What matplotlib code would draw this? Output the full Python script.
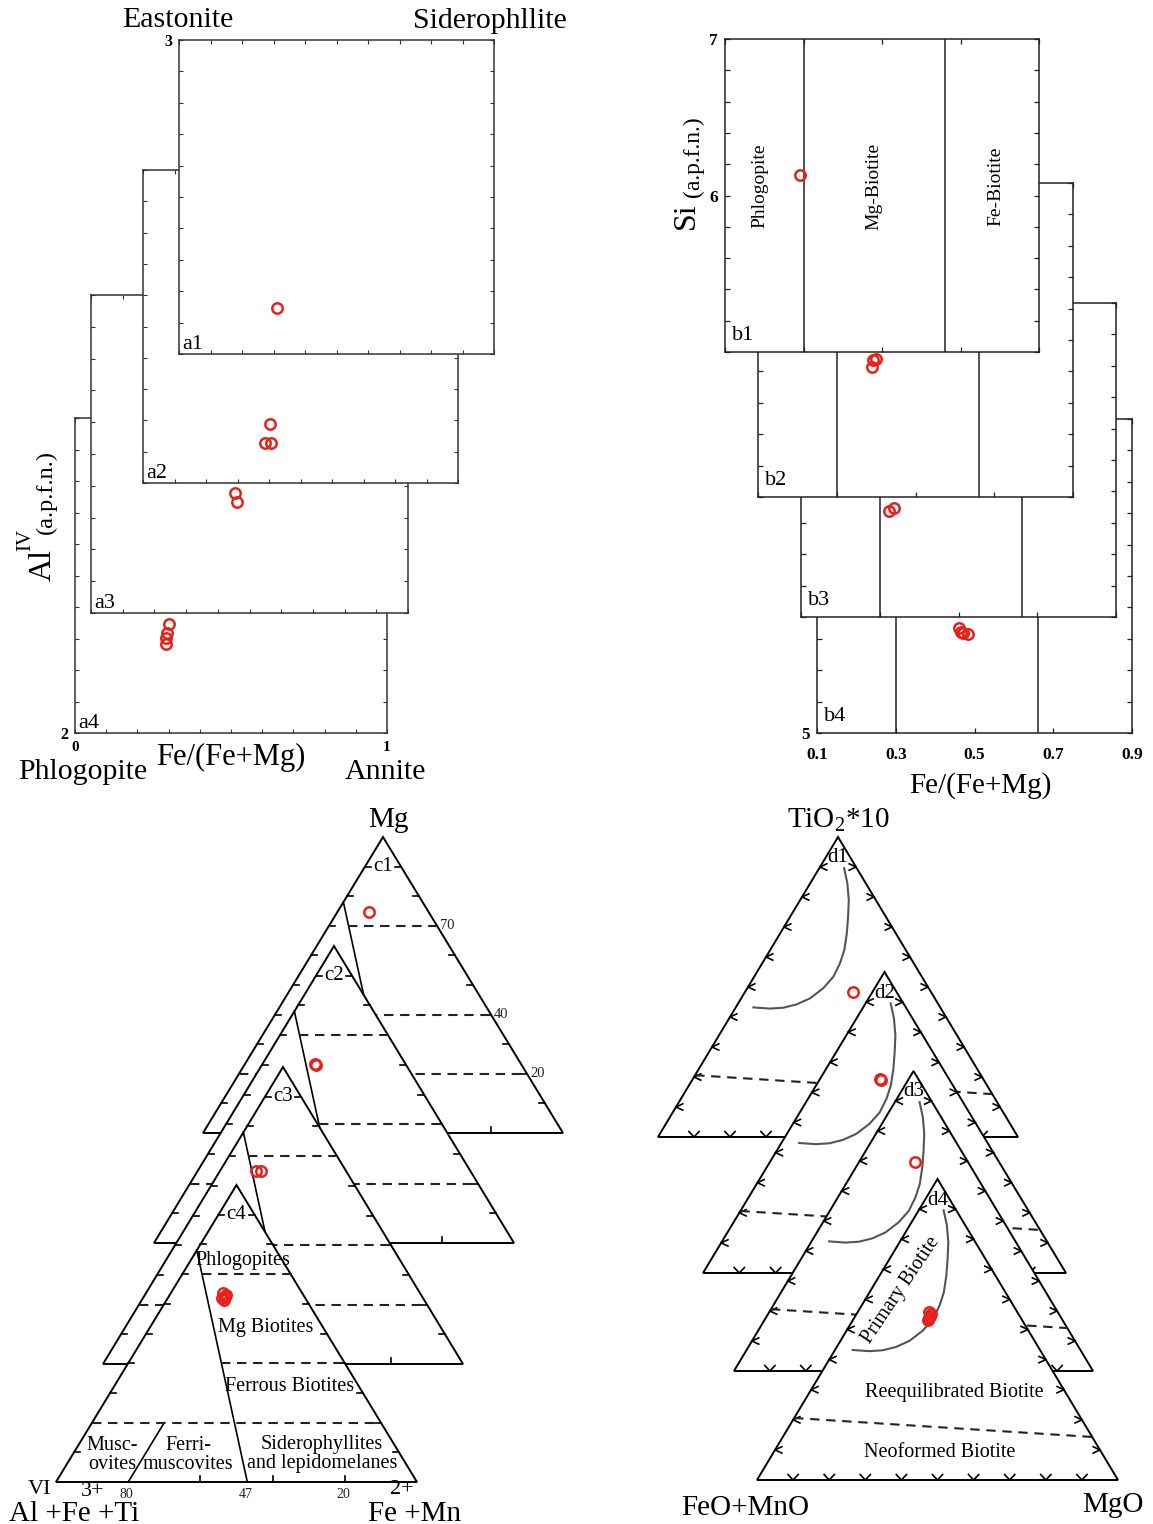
import numpy as np
import matplotlib
matplotlib.use('Agg')
import matplotlib.pyplot as plt
from matplotlib.patches import Polygon

plt.rcParams['font.family'] = ['Liberation Serif', 'DejaVu Serif']
plt.rcParams['mathtext.fontset'] = 'custom'
plt.rcParams['mathtext.rm'] = 'Liberation Serif'
plt.rcParams['axes.linewidth'] = 1.1

W, H = 1153, 1524
RED = '#e4221d'

# ---------------- data ----------------
# (a) Fe/(Fe+Mg) vs Al(IV)
a_names = ['a1', 'a2', 'a3', 'a4']
a_fe = [[0.311], [0.403, 0.387, 0.406], [0.454, 0.461], [0.301, 0.295, 0.292, 0.292]]
a_al = [[2.146], [2.188, 2.128, 2.128], [2.377, 2.349], [2.346, 2.317, 2.302, 2.283]]

# (b) Fe/(Fe+Mg) vs Si
b_names = ['b1', 'b2', 'b3', 'b4']
b_fe = [[0.291], [0.392, 0.400, 0.390], [0.323, 0.336], [0.461, 0.466, 0.471, 0.483]]
b_si = [[6.131], [5.873, 5.879, 5.828], [5.675, 5.694], [5.669, 5.643, 5.637, 5.631]]
b_bounds = [0.30, 0.66]
b_fields = ['Phlogopite', 'Mg-Biotite', 'Fe-Biotite']
b_field_x = [0.19, 0.48, 0.79]
b_xticks = [0.1, 0.3, 0.5, 0.7, 0.9]

# (c) Foster ternary: Mg (top) / AlVI+Fe3++Ti (left) / Fe2++Mn (right)
c_names = ['c1', 'c2', 'c3', 'c4']
c_mg = [[0.747], [0.603, 0.600], [0.650, 0.650],
        [0.636, 0.623, 0.613, 0.630, 0.620]]
c_femn = [[0.088], [0.146, 0.150], [0.100, 0.114],
          [0.145, 0.157, 0.159, 0.156, 0.150]]
c_line1_mg, c_line1_femn = [0.78, 0.0], [0.0, 0.53]
c_line2_mg, c_line2_femn = [0.0, 0.2], [0.2, 0.2]
c_levels = [0.7, 0.4, 0.2]
c_level_start_femn = [0.054, 0.258, 0.0]
c_level_labels = ['70', '40', '20']
c_base_ticks = [0.4, 0.6, 0.8]
c_base_label_femn = [0.2, 0.53, 0.8]
c_base_labels = ['80', '47', '20']
c_fields = ['Phlogopites', 'Mg Biotites', 'Ferrous Biotites', 'Musc-\novites',
            'Ferri-\nmuscovites', 'Siderophyllites\nand lepidomelanes']
c_field_xy = [(0.518, 0.747), (0.582, 0.519), (0.648, 0.32), (0.155, 0.091),
              (0.366, 0.091), (0.737, 0.094)]

# (d) Nachit ternary: TiO2*10 (top) / FeO+MnO (left) / MgO (right)
d_names = ['d1', 'd2', 'd3', 'd4']
d_ti = [[0.483], [0.645, 0.642], [0.697], [0.558, 0.545, 0.532, 0.552, 0.538]]
d_mgo = [[0.300], [0.165, 0.168], [0.156], [0.198, 0.207, 0.208, 0.206, 0.208]]
prim_ti = [0.896, 0.846, 0.790, 0.734, 0.679, 0.623, 0.579, 0.534, 0.496,
           0.462, 0.442, 0.431, 0.428, 0.432]
prim_mgo = [0.069, 0.103, 0.135, 0.161, 0.185, 0.206, 0.216, 0.220, 0.211,
            0.191, 0.164, 0.133, 0.097, 0.049]
neo_ti = [0.206, 0.143]
neo_mgo = [0.0, 0.857]
d_fields = ['Primary Biotite', 'Reequilibrated Biotite', 'Neoformed Biotite']
d_field_xy = [(0.40, 0.63), (0.546, 0.292), (0.507, 0.093)]
d_field_rot = [56, 0, 0]

# ---------------- layout (pixels) ----------------
A_frames = [(179, 40, 494, 354), (143, 170, 458, 483), (91, 295, 408, 613), (75, 418, 387, 733)]
B_frames = [(725, 39, 1039, 352), (758, 183, 1073, 497), (801, 303, 1116, 617), (817, 419, 1132, 733)]
C_tri = [(203, 1133, 360, 296), (154, 1243, 360, 297), (103, 1364, 360, 297), (56, 1482, 361, 297)]
D_tri = [(658, 1137, 360, 300), (703, 1273, 363, 301), (734, 1371, 359, 300), (757, 1480, 361, 301)]

fig = plt.figure(figsize=(W / 100, H / 100), dpi=100)
fig.patch.set_facecolor('white')


def px_axes(l, t, r, b):
    return fig.add_axes([l / W, 1 - b / H, (r - l) / W, (b - t) / H])


def ftext(x, y, s, **kw):
    kw.setdefault('ha', 'center')
    kw.setdefault('va', 'center')
    fig.text(x / W, 1 - y / H, s, **kw)


mk = dict(ls='none', marker='o', mfc='none', mec=RED, ms=7.5, mew=1.8, clip_on=False, zorder=6)

# ---------------- panel a ----------------
for i in [3, 2, 1, 0]:
    ax = px_axes(*A_frames[i])
    ax.set_facecolor('white')
    ax.set_xlim(0, 1)
    ax.set_ylim(2, 3)
    xt = np.round(np.linspace(0, 1, 11), 2)
    yt = np.round(np.linspace(2, 3, 11), 2)
    ax.set_xticks(xt)
    ax.set_yticks(yt)
    xl = [''] * 11
    yl = [''] * 11
    if i == 0:
        yl[-1] = '3'
    if i == 3:
        yl[0] = '2'
        xl[0] = '0'
        xl[-1] = '1'
    ax.set_xticklabels(xl, fontweight='bold', fontsize=11)
    ax.set_yticklabels(yl, fontweight='bold', fontsize=11.5)
    ax.tick_params(direction='in', top=True, right=True, length=3, width=0.8,
                   color='#333333')
    ax.tick_params(axis='y', pad=5)
    ax.tick_params(axis='x', pad=6)
    for s in ax.spines.values():
        s.set_color('#333333')
    ax.plot(a_fe[i], a_al[i], **mk)
    ax.annotate(a_names[i], xy=(0, 0), xycoords='axes fraction', xytext=(2, 0),
                textcoords='offset points', ha='left', va='bottom', fontsize=16)

ftext(178, 20, 'Eastonite', fontsize=21.5)
ftext(490, 21, 'Siderophllite', fontsize=21.5)
ftext(83, 772, 'Phlogopite', fontsize=21.5)
ftext(231, 757, 'Fe/(Fe+Mg)', fontsize=22)
ftext(385, 772, 'Annite', fontsize=21.5)
ftext(43, 565, 'Al', rotation=90, fontsize=23)
ftext(26, 540, 'IV', rotation=90, fontsize=15)
ftext(46, 492, '(a.p.f.n.)', rotation=90, fontsize=17.5)

# ---------------- panel b ----------------
for i in [3, 2, 1, 0]:
    ax = px_axes(*B_frames[i])
    ax.set_facecolor('white')
    ax.set_xlim(0.1, 0.9)
    ax.set_ylim(5, 7)
    yt = np.round(np.linspace(5, 7, 11), 2)
    ax.set_xticks(b_xticks)
    ax.set_yticks(yt)
    xl = [''] * len(b_xticks)
    yl = [''] * 11
    if i == 0:
        yl[-1] = '7'
        yl[5] = '6'
    if i == 3:
        yl[0] = '5'
        xl = ['%.1f' % v for v in b_xticks]
    ax.set_xticklabels(xl, fontweight='bold', fontsize=12.5)
    ax.set_yticklabels(yl, fontweight='bold', fontsize=12.5)
    ax.tick_params(direction='in', top=True, right=True, length=3.5, width=0.9,
                   color='#222222')
    ax.tick_params(axis='y', pad=5)
    ax.tick_params(axis='x', pad=10)
    for s in ax.spines.values():
        s.set_color('#222222')
    for xb in b_bounds:
        ax.axvline(xb, color='#222222', lw=1.1)
    if i == 0:
        for name, fx in zip(b_fields, b_field_x):
            ax.text(fx, 6.06, name, rotation=90, ha='center', va='center', fontsize=14)
    ax.plot(b_fe[i], b_si[i], **mk)
    ax.annotate(b_names[i], xy=(0, 0), xycoords='axes fraction', xytext=(5, 5),
                textcoords='offset points', ha='left', va='bottom', fontsize=16)

ftext(686, 216, 'Si', rotation=90, fontsize=23)
ftext(693, 157, '(a.p.f.n.)', rotation=90, fontsize=17)
ftext(980, 786, 'Fe/(Fe+Mg)', fontsize=21)


# ---------------- ternary helpers ----------------
def tern_ax(l, base, w, h):
    ax = fig.add_axes([l / W, 1 - base / H, w / W, h / H])
    ax.set_xlim(0, 1)
    ax.set_ylim(0, 1)
    ax.set_axis_off()
    ax.add_patch(Polygon([(0, 0), (1, 0), (0.5, 1)], closed=True, fc='white',
                         ec='black', lw=1.4, zorder=1, clip_on=False, joinstyle='miter'))
    return ax


def txy(top, right):
    top = np.asarray(top, float)
    right = np.asarray(right, float)
    return right + top / 2, top


lk = dict(color='black', lw=1.2, clip_on=False, zorder=3)
dk = dict(color='#222222', lw=1.5, ls=(0, (4.5, 3.2)), clip_on=False, zorder=3)

# ---------------- panel c ----------------
for i in range(4):
    l, base, w, h = C_tri[i]
    ax = tern_ax(l, base, w, h)
    tl = 6.0
    for c in np.arange(1, 10) / 10:
        x0, y0 = txy(c, 0)
        ax.plot([x0, x0 + tl / w], [y0, y0], **lk)
        x1, y1 = txy(c, 1 - c)
        ax.plot([x1, x1 - tl / w], [y1, y1], **lk)
    for bb in c_base_ticks:
        ax.plot([bb, bb], [0, tl / h], **lk)
    x, y = txy(c_line1_mg, c_line1_femn)
    ax.plot(x, y, **lk)
    x, y = txy(c_line2_mg, c_line2_femn)
    ax.plot(x, y, **lk)
    for lev, f0 in zip(c_levels, c_level_start_femn):
        x, y = txy([lev, lev], [f0, 1 - lev])
        ax.plot(x, y, **dk)
    x, y = txy(c_mg[i], c_femn[i])
    ax.plot(x, y, **mk)
    ax.text(0.5, 0.9, c_names[i], ha='center', va='center', fontsize=15, zorder=4)
    if i == 0:
        for lev, lab in zip(c_levels, c_level_labels):
            x, y = txy(lev, 1 - lev)
            ax.text(x + 3 / w, y, lab, ha='left', va='center', fontsize=10.5,
                    color='#222222', clip_on=False)
    if i == 3:
        for fb, lab in zip(c_base_label_femn, c_base_labels):
            ax.text(fb - 0.005, -12 / h, lab, ha='center', va='center', fontsize=10,
                    color='#222222', clip_on=False)
        for name, (fx, fy) in zip(c_fields, c_field_xy):
            ax.text(fx, fy, name, ha='center', va='center', fontsize=14.5,
                    linespacing=0.95, zorder=4)

ftext(388, 820, 'Mg', fontsize=21)
ftext(74, 1514, 'Al +Fe +Ti', fontsize=21)
ftext(39, 1489, 'VI', fontsize=16)
ftext(93, 1491, '3+', fontsize=16)
ftext(415, 1514, 'Fe +Mn', fontsize=21)
ftext(402, 1490, '2+', fontsize=16)

# ---------------- panel d ----------------
ang_l = np.deg2rad([25, -25])
ang_r = np.deg2rad([155, 205])
ang_b = np.deg2rad([47, 133])
for i in range(4):
    l, base, w, h = D_tri[i]
    ax = tern_ax(l, base, w, h)
    L = 7.5
    for v in np.arange(1, 10) / 10:
        # left edge (MgO = 0)
        x0, y0 = txy(v, 0)
        for a in ang_l:
            ax.plot([x0, x0 + L * np.cos(a) / w], [y0, y0 + L * np.sin(a) / h], **lk)
        # right edge (FeO+MnO = 0)
        x1, y1 = txy(v, 1 - v)
        for a in ang_r:
            ax.plot([x1, x1 + L * np.cos(a) / w], [y1, y1 + L * np.sin(a) / h], **lk)
        # base (TiO2 = 0)
        x2, y2 = txy(0, v)
        for a in ang_b:
            ax.plot([x2, x2 + L * np.cos(a) / w], [y2, y2 + L * np.sin(a) / h], **lk)
    x, y = txy(prim_ti, prim_mgo)
    ax.plot(x, y, color='#555555', lw=1.5, clip_on=False, zorder=3)
    x, y = txy(neo_ti, neo_mgo)
    ax.plot(x, y, **dk)
    x, y = txy(d_ti[i], d_mgo[i])
    ax.plot(x, y, **mk)
    ax.text(0.5, 0.93, d_names[i], ha='center', va='center', fontsize=15, zorder=4)
    if i == 3:
        for name, (fx, fy), rot in zip(d_fields, d_field_xy, d_field_rot):
            ax.text(fx, fy, name, ha='center', va='center', fontsize=14.5,
                    rotation=rot, zorder=4)

ftext(838, 820, r'TiO$_{\mathrm{2}}$*10', fontsize=21)
ftext(745, 1508, 'FeO+MnO', fontsize=21)
ftext(1113, 1505, 'MgO', fontsize=21)

fig.savefig('out.png', dpi=100, facecolor='white')
